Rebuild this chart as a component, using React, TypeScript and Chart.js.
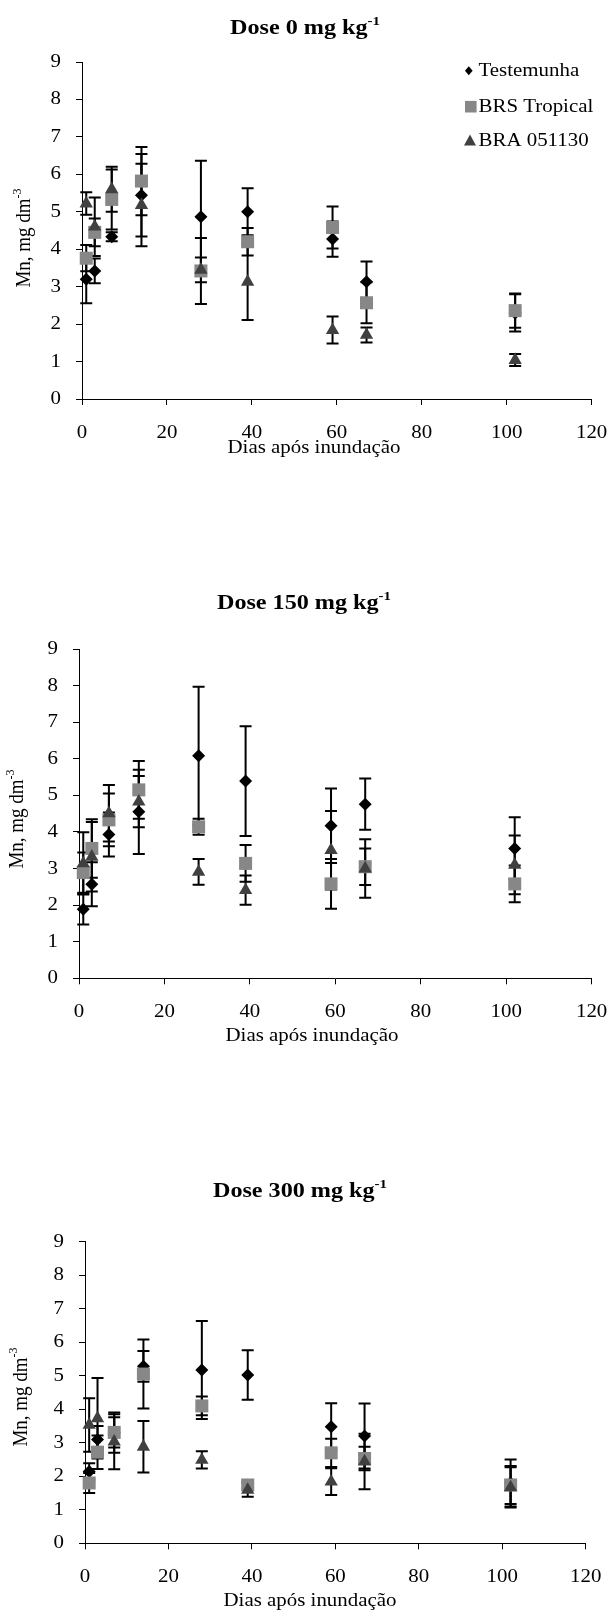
import React, { useEffect, useRef } from 'react';
import { Chart, registerables } from 'chart.js';

Chart.register(...registerables);

// ---------------- DATA ----------------
const days = [1, 3, 7, 14, 28, 39, 59, 67, 102];
const seriesNames = ['Testemunha', 'BRS Tropical', 'BRA 051130'];
const panelTitles = ['Dose 0 mg kg', 'Dose 150 mg kg', 'Dose 300 mg kg'];
const panelTitleSup = '-1';
const yAxisTitle = 'Mn, mg dm';
const yAxisTitleSup = '-3';
const xAxisTitle = 'Dias após inundação';
const xRange = [0, 120];
const xStep = 20;
const yRange = [0, 9];
const yStep = 1;

// Dose 0 mg kg-1
const dose0Testemunha = [3.2, 3.42, 4.33, 5.44, 4.87, 5.0, 4.27, 3.13, 2.3];
const dose0TestemunhaErr = [0.64, 0.33, 0.12, 1.1, 1.49, 0.63, 0.47, 0.54, 0.5];
const dose0BRS = [3.76, 4.45, 5.33, 5.82, 3.42, 4.2, 4.58, 2.57, 2.36];
const dose0BRSErr = [0.35, 0.37, 0.8, 0.91, 0.88, 0.37, 0.56, 0.55, 0.46];
const dose0BRA = [5.22, 4.6, 5.6, 5.18, 3.45, 3.13, 1.84, 1.71, 1.04];
const dose0BRAErr = [0.3, 0.78, 0.6, 1.1, 0.33, 1.02, 0.36, 0.2, 0.16];

// Dose 150 mg kg-1
const dose150Testemunha = [1.89, 2.57, 3.93, 4.55, 6.08, 5.39, 4.17, 4.76, 3.55];
const dose150TestemunhaErr = [0.42, 0.6, 0.6, 1.15, 1.89, 1.5, 1.02, 0.7, 0.85];
const dose150BRS = [2.89, 3.55, 4.33, 5.15, 4.14, 3.14, 2.58, 3.05, 2.58];
const dose150BRSErr = [0.55, 0.8, 0.72, 0.79, 0.22, 0.5, 0.68, 0.5, 0.5];
const dose150BRA = [3.14, 3.32, 4.51, 4.83, 2.91, 2.41, 3.5, 3.0, 3.1];
const dose150BRAErr = [0.85, 0.95, 0.77, 0.7, 0.35, 0.4, 1.07, 0.8, 0.8];

// Dose 300 mg kg-1
const dose300Testemunha = [2.14, 3.1, 3.3, 5.28, 5.17, 5.02, 3.48, 3.2, 1.8];
const dose300TestemunhaErr = [0.25, 0.4, 0.6, 0.46, 1.46, 0.74, 0.7, 0.97, 0.7];
const dose300BRS = [1.8, 2.72, 3.31, 5.05, 4.1, 1.74, 2.7, 2.53, 1.74];
const dose300BRSErr = [0.3, 0.5, 0.45, 1.03, 0.28, 0.1, 0.42, 0.35, 0.57];
const dose300BRA = [3.53, 3.73, 3.03, 2.88, 2.49, 1.59, 1.84, 2.44, 1.67];
const dose300BRAErr = [0.8, 1.2, 0.82, 0.77, 0.26, 0.2, 0.4, 0.83, 0.6];

// ---------------- STYLE / LAYOUT ----------------
const FONT = "'Liberation Serif', 'Times New Roman', serif";
const SX = 1.1; // horizontal stretch of text in the original picture
const SX_TITLE = 1.15;
const seriesStyles = [
  { pointStyle: 'rectRot', radius: 6.5, color: '#000000', order: 3 },
  { pointStyle: 'rect', radius: 9.2, color: '#878787', order: 2 },
  { pointStyle: 'triangle', radius: 7.7, color: '#404040', order: 1 },
];

type Layout = {
  top: number; height: number;
  l: number; r: number; t: number; b: number;
  titleX: number; titleY: number;
  yTitleX: number; yTitleY: number;
  xTitleX: number; xTitleY: number;
  tickLabelY: number;
  legend: boolean;
};

const layouts: Layout[] = [
  { top: 0, height: 520, l: 82, r: 591.6, t: 62, b: 399, titleX: 305, titleY: 28.5,
    yTitleX: 25, yTitleY: 238, xTitleX: 314, xTitleY: 448, tickLabelY: 433, legend: true },
  { top: 520, height: 590, l: 79, r: 591.6, t: 649, b: 978.3, titleX: 304, titleY: 603.5,
    yTitleX: 18, yTitleY: 819, xTitleX: 312, xTitleY: 1036, tickLabelY: 1011.7, legend: false },
  { top: 1110, height: 510, l: 85, r: 585.7, t: 1241.7, b: 1543.3, titleX: 300, titleY: 1192,
    yTitleX: 21.5, yTitleY: 1397, xTitleX: 310, xTitleY: 1601, tickLabelY: 1576.7, legend: false },
];

const panelSeries = [
  [[dose0Testemunha, dose0TestemunhaErr], [dose0BRS, dose0BRSErr], [dose0BRA, dose0BRAErr]],
  [[dose150Testemunha, dose150TestemunhaErr], [dose150BRS, dose150BRSErr], [dose150BRA, dose150BRAErr]],
  [[dose300Testemunha, dose300TestemunhaErr], [dose300BRS, dose300BRSErr], [dose300BRA, dose300BRAErr]],
];

type Part = { t: string; sup?: boolean };

function drawRich(ctx: CanvasRenderingContext2D, parts: Part[], x: number, y: number,
  align: 'left' | 'center' | 'right', font: string, supFont: string, supRise: number,
  rotate = false, sx = SX) {
  ctx.save();
  ctx.translate(x, y);
  if (rotate) {
    ctx.rotate(-Math.PI / 2);
    ctx.scale(1, sx);
  } else {
    ctx.scale(sx, 1);
  }
  let w = 0;
  for (const p of parts) {
    ctx.font = p.sup ? supFont : font;
    w += ctx.measureText(p.t).width;
  }
  let cx = align === 'center' ? -w / 2 : align === 'right' ? -w : 0;
  ctx.textBaseline = 'middle';
  ctx.textAlign = 'left';
  ctx.fillStyle = '#000';
  for (const p of parts) {
    ctx.font = p.sup ? supFont : font;
    ctx.fillText(p.t, cx, p.sup ? -supRise : 0);
    cx += ctx.measureText(p.t).width;
  }
  ctx.restore();
}

function drawMarker(ctx: CanvasRenderingContext2D, style: string, x: number, y: number, size: number, color: string) {
  ctx.save();
  ctx.fillStyle = color;
  ctx.beginPath();
  if (style === 'rectRot') {
    ctx.moveTo(x, y - size); ctx.lineTo(x + size * 0.85, y); ctx.lineTo(x, y + size); ctx.lineTo(x - size * 0.85, y);
  } else if (style === 'rect') {
    ctx.rect(x - size, y - size, size * 2, size * 2);
  } else {
    ctx.moveTo(x, y - size * 1.1); ctx.lineTo(x + size, y + size * 0.75); ctx.lineTo(x - size, y + size * 0.75);
  }
  ctx.closePath();
  ctx.fill();
  ctx.restore();
}

function Panel({ index }: { index: number }) {
  const ref = useRef<HTMLCanvasElement | null>(null);
  const L = layouts[index];

  useEffect(() => {
    const canvas = ref.current;
    if (!canvas) return;
    const series = panelSeries[index];
    const AX_W = 10;
    const AX_H = 10;

    const errorBarPlugin = {
      id: 'errorBars',
      beforeDatasetsDraw(chart: any) {
        const { ctx } = chart;
        const xs = chart.scales.x;
        const ys = chart.scales.y;
        ctx.save();
        ctx.strokeStyle = '#000';
        ctx.lineWidth = 2;
        chart.data.datasets.forEach((ds: any) => {
          ds.data.forEach((pt: any, j: number) => {
            const e = ds.errors[j];
            const px = xs.getPixelForValue(pt.x);
            const y1 = ys.getPixelForValue(pt.y + e);
            const y2 = ys.getPixelForValue(pt.y - e);
            ctx.beginPath();
            ctx.moveTo(px, y1); ctx.lineTo(px, y2);
            ctx.moveTo(px - 6, y1); ctx.lineTo(px + 6, y1);
            ctx.moveTo(px - 6, y2); ctx.lineTo(px + 6, y2);
            ctx.stroke();
          });
        });
        ctx.restore();
      },
    };

    const textPlugin = {
      id: 'texts',
      afterDraw(chart: any) {
        const { ctx } = chart;
        const xs = chart.scales.x;
        const ys = chart.scales.y;
        const off = L.top;
        const font = `19px ${FONT}`;
        const supFont = `12px ${FONT}`;
        // title
        drawRich(ctx, [{ t: panelTitles[index] }, { t: panelTitleSup, sup: true }],
          L.titleX, L.titleY - off, 'center', `bold 21px ${FONT}`, `bold 13px ${FONT}`, 7, false, SX_TITLE);
        // y title
        drawRich(ctx, [{ t: yAxisTitle }, { t: yAxisTitleSup, sup: true }],
          L.yTitleX, L.yTitleY - off, 'center', font, supFont, 7, true);
        // x title
        drawRich(ctx, [{ t: xAxisTitle }], L.xTitleX, L.xTitleY - off, 'center', font, supFont, 0);
        // tick labels
        xs.ticks.forEach((tk: any) => {
          const px = xs.getPixelForValue(tk.value);
          drawRich(ctx, [{ t: String(tk.value) }], px, L.tickLabelY - off, 'center', font, supFont, 0);
        });
        ys.ticks.forEach((tk: any) => {
          const py = ys.getPixelForValue(tk.value);
          drawRich(ctx, [{ t: String(tk.value) }], L.l - 21, py, 'right', font, supFont, 0);
        });
        // legend
        if (L.legend) {
          const rows = [70.7, 106.7, 141];
          const sizes = [4.5, 5.8, 6];
          const mx = [468.8, 470.8, 470];
          seriesNames.forEach((name, i) => {
            drawMarker(ctx, seriesStyles[i].pointStyle, mx[i], rows[i] - off, sizes[i], seriesStyles[i].color);
            drawRich(ctx, [{ t: name }], 478.5, rows[i] - off, 'left', font, supFont, 0);
          });
        }
      },
    };

    const chart = new Chart(canvas, {
      type: 'scatter',
      data: {
        datasets: series.map(([vals, errs], i) => ({
          label: seriesNames[i],
          data: days.map((d, j) => ({ x: d, y: vals[j] })),
          errors: errs,
          pointStyle: seriesStyles[i].pointStyle,
          pointRadius: seriesStyles[i].radius,
          pointHoverRadius: seriesStyles[i].radius,
          backgroundColor: seriesStyles[i].color,
          borderColor: seriesStyles[i].color,
          pointBorderWidth: 0,
          borderWidth: 0,
          showLine: false,
          order: seriesStyles[i].order,
          clip: false,
        })) as any,
      },
      options: {
        responsive: false,
        animation: false,
        events: [],
        layout: {
          autoPadding: false,
          padding: {
            left: L.l - AX_W,
            right: 608 - L.r,
            top: L.t - L.top,
            bottom: L.height - (L.b - L.top) - AX_H,
          },
        },
        plugins: {
          legend: { display: false },
          title: { display: false },
          tooltip: { enabled: false },
        },
        scales: {
          x: {
            type: 'linear',
            min: xRange[0],
            max: xRange[1],
            ticks: { stepSize: xStep, display: false },
            grid: { drawOnChartArea: false, drawTicks: true, tickLength: 6, color: '#000', lineWidth: 1 },
            border: { display: true, color: '#000', width: 1 },
            afterFit: (s: any) => { s.height = AX_H; },
          },
          y: {
            type: 'linear',
            min: yRange[0],
            max: yRange[1],
            ticks: { stepSize: yStep, display: false },
            grid: { drawOnChartArea: false, drawTicks: true, tickLength: 6, color: '#000', lineWidth: 1 },
            border: { display: true, color: '#000', width: 1 },
            afterFit: (s: any) => { s.width = AX_W; },
          },
        },
      } as any,
      plugins: [errorBarPlugin, textPlugin],
    });
    return () => chart.destroy();
  }, [index]);

  return (
    <canvas
      ref={ref}
      width={608}
      height={L.height}
      style={{ position: 'absolute', left: 0, top: L.top, width: 608, height: L.height }}
    />
  );
}

export default function App() {
  return (
    <div style={{ position: 'absolute', left: 0, top: 0, width: 608, height: 1620, background: '#fff' }}>
      {layouts.map((_, i) => (
        <Panel key={i} index={i} />
      ))}
    </div>
  );
}
